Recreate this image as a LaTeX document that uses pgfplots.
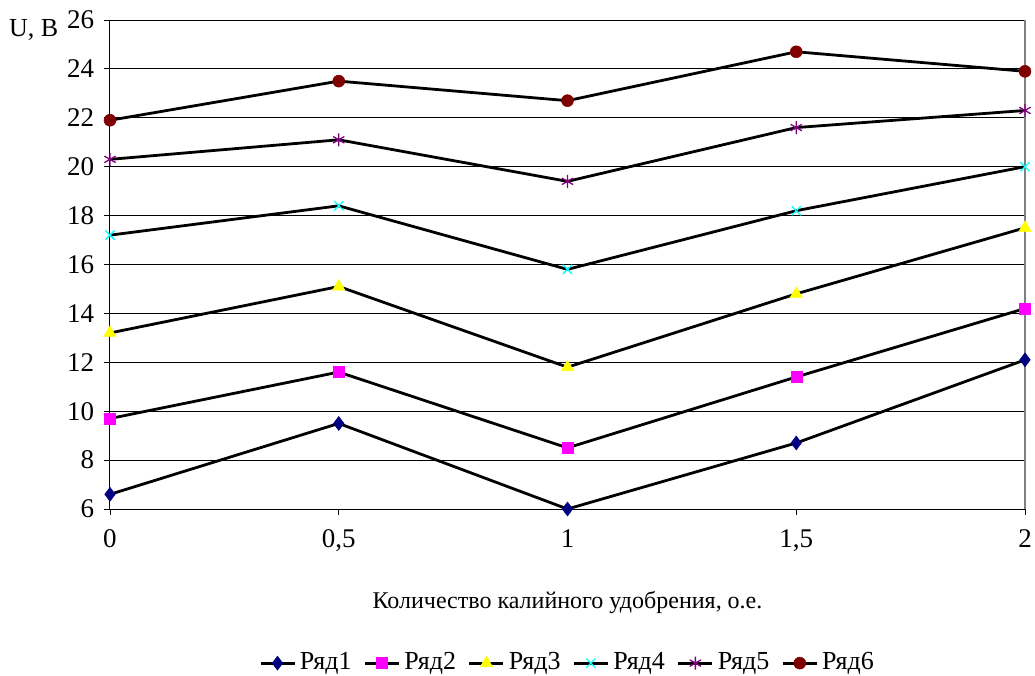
\documentclass[border=0pt]{standalone}
\usepackage{pgfplots}
\pgfplotsset{compat=1.18}
\usepackage{fontspec}
\setmainfont{Liberation Serif}
\usetikzlibrary{plotmarks}
\definecolor{r1}{RGB}{0,0,128}
\definecolor{r2}{RGB}{255,0,255}
\definecolor{r3}{RGB}{255,255,0}
\definecolor{r4}{RGB}{0,255,255}
\definecolor{r5}{RGB}{128,0,128}
\definecolor{r6}{RGB}{128,0,0}
\begin{document}
\fontsize{26}{30}\selectfont
\begin{tikzpicture}
\path[use as bounding box] (-110pt,-167pt) rectangle (925pt,509pt);
\begin{axis}[
  at={(0,0)}, anchor=south west,
  scale only axis, width=915pt, height=489pt,
  xmin=0, xmax=4, ymin=6, ymax=26,
  xtick={0,1,2,3,4}, xticklabels={0,{0,5},1,{1,5},2},
  ytick={6,8,...,26},
  axis x line*=bottom, axis y line*=left,
  axis line style={black, line width=1pt},
  every axis plot/.append style={line width=2.8pt, black},
  ymajorgrids, grid style={black, line width=0.8pt},
  tick style={black, line width=0.8pt},
  major tick length=6pt,
  xtick align=outside, ytick align=outside,
  tick label style={font=\fontsize{27}{31}\selectfont},
  /pgf/number format/assume math mode=true,
  xticklabel style={yshift=-6pt},
  yticklabel style={xshift=-1pt},
  xlabel={Количество калийного удобрения, о.е.},
  xlabel style={font=\fontsize{24}{28}\selectfont, yshift=-22pt},
  clip=false,
  legend columns=6,
  legend style={draw=none, at={(0.5,-0.285)}, anchor=north, font=\fontsize{26}{30}\selectfont,
    /tikz/every odd column/.append style={column sep=2pt},
    /tikz/every even column/.append style={column sep=10pt}},
  legend image code/.code={\draw[black, line width=2.8pt] (0pt,0pt) -- (34pt,0pt); \draw[#1, line width=2.8pt] plot coordinates {(17pt,0pt)};},
]
\addplot[mark=diamond*, mark size=7pt, mark options={draw=r1, fill=r1, line width=0.5pt}] coordinates {(0,6.6) (1,9.5) (2,6.0) (3,8.7) (4,12.1)};
\addlegendentry{Ряд1}
\addplot[mark=square*, mark size=5.5pt, mark options={draw=r2, fill=r2, line width=0.5pt}] coordinates {(0,9.7) (1,11.6) (2,8.5) (3,11.4) (4,14.2)};
\addlegendentry{Ряд2}
\addplot[mark=triangle*, mark size=7pt, mark options={draw=r3, fill=r3, line width=0.5pt}] coordinates {(0,13.2) (1,15.1) (2,11.8) (3,14.8) (4,17.5)};
\addlegendentry{Ряд3}
\addplot[mark=x, mark size=6.5pt, mark options={draw=r4, line width=1.3pt}] coordinates {(0,17.2) (1,18.4) (2,15.8) (3,18.2) (4,20.0)};
\addlegendentry{Ряд4}
\addplot[mark=asterisk, mark size=6.5pt, mark options={draw=r5, line width=1.3pt}] coordinates {(0,20.3) (1,21.1) (2,19.4) (3,21.6) (4,22.3)};
\addlegendentry{Ряд5}
\addplot[mark=*, mark size=6pt, mark options={draw=r6, fill=r6, line width=0.5pt}] coordinates {(0,21.9) (1,23.5) (2,22.7) (3,24.7) (4,23.9)};
\addlegendentry{Ряд6}
\draw[gray, line width=1.2pt] (rel axis cs:1,0) -- (rel axis cs:1,1);
\node[anchor=east, font=\fontsize{26}{30}\selectfont] at (rel axis cs:0,1) [xshift=-43pt, yshift=-10pt] {U, В};
\end{axis}
\end{tikzpicture}
\end{document}
